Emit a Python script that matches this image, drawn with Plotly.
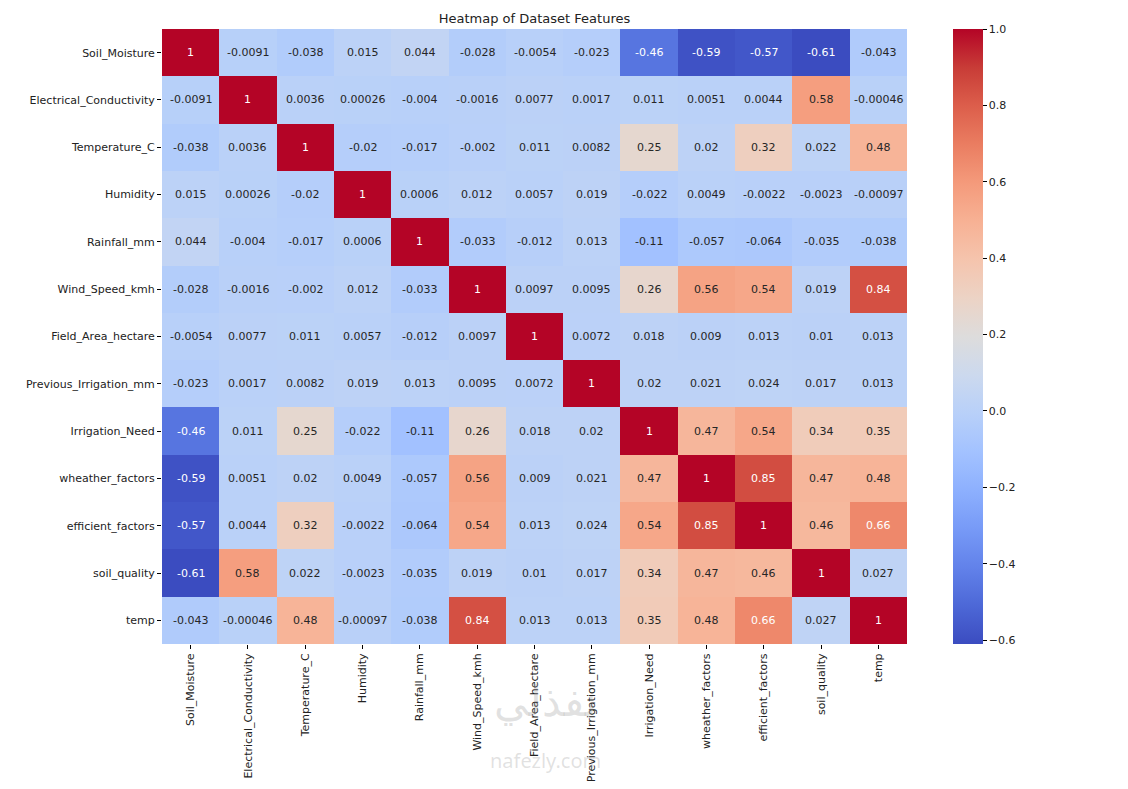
'''
Correlation heatmap of the irrigation dataset features, drawn with plotly
graph_objects so that the cell labels can switch between dark and white text
'''

import plotly.graph_objects as go

# feature names (rows top to bottom, columns left to right)
features = [
    'Soil_Moisture', 'Electrical_Conductivity', 'Temperature_C', 'Humidity',
    'Rainfall_mm', 'Wind_Speed_kmh', 'Field_Area_hectare', 'Previous_Irrigation_mm',
    'Irrigation_Need', 'wheather_factors', 'efficient_factors', 'soil_quality', 'temp'
]

# correlation rows
soil_moisture = [1, -0.0091, -0.038, 0.015, 0.044, -0.028, -0.0054, -0.023, -0.46, -0.59, -0.57, -0.61, -0.043]
electrical_conductivity = [-0.0091, 1, 0.0036, 0.00026, -0.004, -0.0016, 0.0077, 0.0017, 0.011, 0.0051, 0.0044, 0.58, -0.00046]
temperature_c = [-0.038, 0.0036, 1, -0.02, -0.017, -0.002, 0.011, 0.0082, 0.25, 0.02, 0.32, 0.022, 0.48]
humidity = [0.015, 0.00026, -0.02, 1, 0.0006, 0.012, 0.0057, 0.019, -0.022, 0.0049, -0.0022, -0.0023, -0.00097]
rainfall_mm = [0.044, -0.004, -0.017, 0.0006, 1, -0.033, -0.012, 0.013, -0.11, -0.057, -0.064, -0.035, -0.038]
wind_speed_kmh = [-0.028, -0.0016, -0.002, 0.012, -0.033, 1, 0.0097, 0.0095, 0.26, 0.56, 0.54, 0.019, 0.84]
field_area_hectare = [-0.0054, 0.0077, 0.011, 0.0057, -0.012, 0.0097, 1, 0.0072, 0.018, 0.009, 0.013, 0.01, 0.013]
previous_irrigation_mm = [-0.023, 0.0017, 0.0082, 0.019, 0.013, 0.0095, 0.0072, 1, 0.02, 0.021, 0.024, 0.017, 0.013]
irrigation_need = [-0.46, 0.011, 0.25, -0.022, -0.11, 0.26, 0.018, 0.02, 1, 0.47, 0.54, 0.34, 0.35]
wheather_factors = [-0.59, 0.0051, 0.02, 0.0049, -0.057, 0.56, 0.009, 0.021, 0.47, 1, 0.85, 0.47, 0.48]
efficient_factors = [-0.57, 0.0044, 0.32, -0.0022, -0.064, 0.54, 0.013, 0.024, 0.54, 0.85, 1, 0.46, 0.66]
soil_quality = [-0.61, 0.58, 0.022, -0.0023, -0.035, 0.019, 0.01, 0.017, 0.34, 0.47, 0.46, 1, 0.027]
temp = [-0.043, -0.00046, 0.48, -0.00097, -0.038, 0.84, 0.013, 0.013, 0.35, 0.48, 0.66, 0.027, 1]

corr = [
    soil_moisture, electrical_conductivity, temperature_c, humidity, rainfall_mm,
    wind_speed_kmh, field_area_hectare, previous_irrigation_mm, irrigation_need,
    wheather_factors, efficient_factors, soil_quality, temp
]

# colorbar ticks
cbar_ticks = [-0.6, -0.4, -0.2, 0.0, 0.2, 0.4, 0.6, 0.8, 1.0]

# approximation of matplotlib's coolwarm
coolwarm = [
    [0.0, 'rgb(59,76,192)'], [0.0625, 'rgb(77,104,215)'], [0.125, 'rgb(98,130,234)'],
    [0.1875, 'rgb(119,154,247)'], [0.25, 'rgb(141,176,254)'], [0.3125, 'rgb(163,194,255)'],
    [0.375, 'rgb(184,208,249)'], [0.4375, 'rgb(204,217,238)'], [0.5, 'rgb(221,220,220)'],
    [0.5625, 'rgb(236,211,197)'], [0.625, 'rgb(245,196,173)'], [0.6875, 'rgb(247,177,148)'],
    [0.75, 'rgb(244,154,123)'], [0.8125, 'rgb(234,125,97)'], [0.875, 'rgb(220,94,75)'],
    [0.9375, 'rgb(200,60,55)'], [1.0, 'rgb(180,4,38)'],
]

zmin = min(min(r) for r in corr)
zmax = max(max(r) for r in corr)
font_family = 'DejaVu Sans'

# page body adds 8px around the figure, so the figure is made smaller to fit
W, H = 1112, 773
L, T = 154, 21
PW, PH = 745, 615

fig = go.Figure()

fig.add_trace(go.Heatmap(
    z=corr,
    x=features,
    y=features,
    zmin=zmin,
    zmax=zmax,
    colorscale=coolwarm,
    colorbar=dict(
        thickness=30,
        len=1,
        lenmode='fraction',
        y=0.5,
        yanchor='middle',
        x=1 + 46 / PW,
        xanchor='left',
        xpad=0,
        ypad=0,
        outlinewidth=0,
        ticks='outside',
        ticklen=4,
        tickcolor='black',
        tickvals=cbar_ticks,
        ticktext=[f'{v:.1f}'.replace('-', '\u2212') for v in cbar_ticks],
        tickfont=dict(size=11, color='#222', family=font_family),
    ),
    hovertemplate='%{y} / %{x}: %{z}<extra></extra>',
))

# cell labels, seaborn style (.2g, white text on dark cells)
for i, row_name in enumerate(features):
    for j, col_name in enumerate(features):
        v = corr[i][j]
        dark = v >= 0.66 or v <= -0.45
        fig.add_annotation(
            x=col_name, y=row_name, xref='x', yref='y',
            text=format(v, '.2g'),
            showarrow=False,
            font=dict(size=11, color='white' if dark else '#262626', family=font_family),
        )

# faint site watermark
fig.add_annotation(
    x=0.515, y=-0.14, xref='paper', yref='paper', text='نفذلي', showarrow=False,
    font=dict(size=42, color='rgba(150,150,150,0.28)', family='Noto Sans'),
)
fig.add_annotation(
    x=0.515, y=-0.215, xref='paper', yref='paper', text='nafezly.com', showarrow=False,
    font=dict(size=20, color='rgba(150,150,150,0.28)', family='Noto Sans'),
)

fig.update_layout(
    width=W,
    height=H,
    margin=dict(l=L, r=W - L - PW, t=T, b=H - T - PH),
    paper_bgcolor='white',
    plot_bgcolor='white',
    font=dict(family=font_family, size=11, color='#222'),
    title=dict(
        text='Heatmap of Dataset Features',
        x=(L + PW / 2) / W, xanchor='center',
        y=1 - 10 / H, yanchor='middle',
        font=dict(size=13, color='#222', family=font_family),
    ),
)

fig.update_xaxes(
    tickangle=-90, ticks='outside', ticklen=4, tickcolor='black',
    showgrid=False, zeroline=False, showline=False, automargin=False,
    tickfont=dict(size=11, family=font_family),
)
fig.update_yaxes(
    autorange='reversed', ticks='outside', ticklen=4, tickcolor='black',
    showgrid=False, zeroline=False, showline=False, automargin=False,
    tickfont=dict(size=11, family=font_family),
)

fig.write_html('out.html')
